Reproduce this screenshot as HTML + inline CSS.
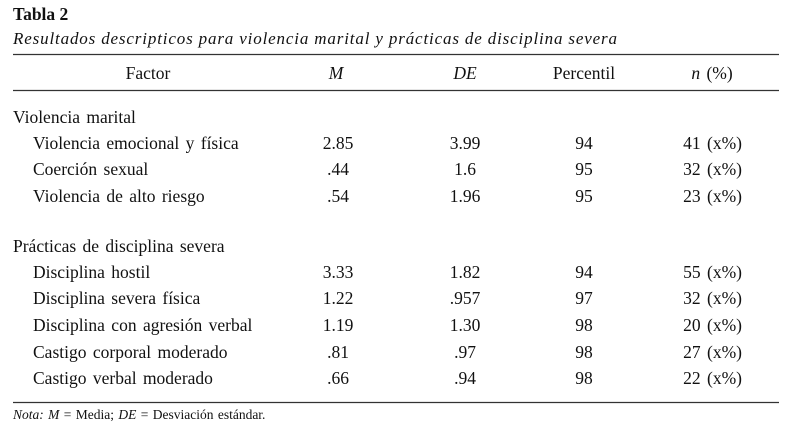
<!DOCTYPE html>
<html><head><meta charset="utf-8"><style>
html,body{margin:0;padding:0;background:#fff;}
svg{display:block;font-family:"Liberation Serif",serif;fill:#111;}
</style></head><body>
<svg width="788" height="429" viewBox="0 0 788 429">
<text x="13" y="20" font-size="17.5" font-weight="bold">Tabla 2</text>
<text x="13" y="44" font-size="17" font-style="italic" textLength="604" lengthAdjust="spacing">Resultados descripticos para violencia marital y prácticas de disciplina severa</text>
<line x1="13" y1="54.5" x2="779" y2="54.5" stroke="#333" stroke-width="1.2"/>
<g font-size="17.5" word-spacing="2">
<text x="148" y="79" text-anchor="middle">Factor</text>
<text x="336" y="79" text-anchor="middle" font-style="italic">M</text>
<text x="465" y="79" text-anchor="middle" font-style="italic">DE</text>
<text x="584" y="79" text-anchor="middle">Percentil</text>
<text x="712" y="79" text-anchor="middle"><tspan font-style="italic">n</tspan> (%)</text>
</g>
<line x1="13" y1="90.5" x2="779" y2="90.5" stroke="#333" stroke-width="1.2"/>
<g id="body" font-size="17.5" word-spacing="2"></g>
<line x1="13" y1="402.5" x2="779" y2="402.5" stroke="#333" stroke-width="1.2"/>
<text x="13" y="419" font-size="13.5" word-spacing="1"><tspan font-style="italic">Nota: M</tspan> = Media; <tspan font-style="italic">DE</tspan> = Desviación estándar.</text>
</svg>
<script>
const sections=["Violencia marital","Prácticas de disciplina severa"];
const sectionY=[123,252];
const factors=["Violencia emocional y física","Coerción sexual","Violencia de alto riesgo","Disciplina hostil","Disciplina severa física","Disciplina con agresión verbal","Castigo corporal moderado","Castigo verbal moderado"];
const mValues=["2.85",".44",".54","3.33","1.22","1.19",".81",".66"];
const deValues=["3.99","1.6","1.96","1.82",".957","1.30",".97",".94"];
const percentiles=["94","95","95","94","97","98","98","98"];
const nValues=["41 (x%)","32 (x%)","23 (x%)","55 (x%)","32 (x%)","20 (x%)","27 (x%)","22 (x%)"];
const rowY=[149,175,202,278,304,331,358,384];
const g=document.getElementById('body');
const NS='http://www.w3.org/2000/svg';
function t(x,y,s,anchor){const e=document.createElementNS(NS,'text');e.setAttribute('x',x);e.setAttribute('y',y);if(anchor)e.setAttribute('text-anchor',anchor);e.textContent=s;g.appendChild(e);return e;}
sections.forEach((s,i)=>{const e=t(13,sectionY[i],s);

});
factors.forEach((f,i)=>{const y=rowY[i];
let e=t(33,y,f);


e=t(338,y,mValues[i],'middle');


e=t(465,y,deValues[i],'middle');


e=t(584,y,percentiles[i],'middle');


e=t(742,y,nValues[i],'end');


});
</script>
</body></html>
